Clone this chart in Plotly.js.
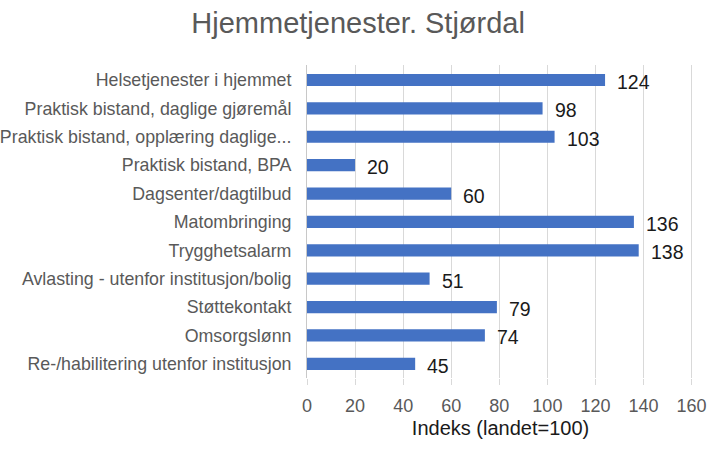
<!DOCTYPE html>
<html>
<head>
<meta charset="utf-8">
<script src="https://cdn.plot.ly/plotly-3.0.1.min.js"></script>
<style>html,body{margin:0;padding:0;background:#fff;}#chart{width:722px;height:450px;}</style>
</head>
<body>
<div id="chart"></div>
<script>
const categories = [
  "Helsetjenester i hjemmet",
  "Praktisk bistand, daglige gjøremål",
  "Praktisk bistand, opplæring daglige...",
  "Praktisk bistand, BPA",
  "Dagsenter/dagtilbud",
  "Matombringing",
  "Trygghetsalarm",
  "Avlasting - utenfor institusjon/bolig",
  "Støttekontakt",
  "Omsorgslønn",
  "Re-/habilitering utenfor institusjon"
];
const values = [124, 98, 103, 20, 60, 136, 138, 51, 79, 74, 45];
const xTicks = [0, 20, 40, 60, 80, 100, 120, 140, 160];

const FONT = 'Liberation Sans, Arial, sans-serif';

const trace = {
  type: 'bar',
  orientation: 'h',
  y: categories,
  x: values,
  marker: {color: '#4472C4'},
  width: 0.43,
  hoverinfo: 'none'
};

const annotations = values.map((v, i) => ({
  x: v, y: categories[i], xref: 'x', yref: 'y',
  text: String(v), showarrow: false, xanchor: 'left', yanchor: 'middle',
  xshift: 10, yshift: -2,
  font: {family: FONT, size: 19.5, color: '#1a1a1a'}
}));

const layout = {
  width: 722, height: 450,
  margin: {l: 307, r: 28, t: 65, b: 72},
  paper_bgcolor: '#fff', plot_bgcolor: '#fff',
  showlegend: false,
  title: {
    text: 'Hjemmetjenester. Stjørdal',
    x: 0.496, xref: 'container', xanchor: 'center', y: 0.95, yref: 'container', yanchor: 'middle',
    font: {family: FONT, size: 29, color: '#595959'}
  },
  xaxis: {
    range: [0, 161],
    tickvals: xTicks,
    ticktext: xTicks.map(String),
    showgrid: true, gridcolor: '#d9d9d9', gridwidth: 1,
    zeroline: false,
    showline: false,
    ticks: 'outside', ticklen: 6, tickcolor: '#d9d9d9',
    ticklabelstandoff: 5,
    tickfont: {family: FONT, size: 18, color: '#595959'},
    title: {text: 'Indeks (landet=100)', standoff: 6,
      font: {family: FONT, size: 20, color: '#1a1a1a'}}
  },
  yaxis: {
    autorange: 'reversed',
    showgrid: false,
    showline: true, linecolor: '#c8c8c8', linewidth: 1,
    ticks: '',
    ticklabelstandoff: 11,
    tickfont: {family: FONT, size: 17.8, color: '#595959'}
  },
  annotations: annotations
};

Plotly.newPlot('chart', [trace], layout, {displayModeBar: false, staticPlot: true});
</script>
</body>
</html>
